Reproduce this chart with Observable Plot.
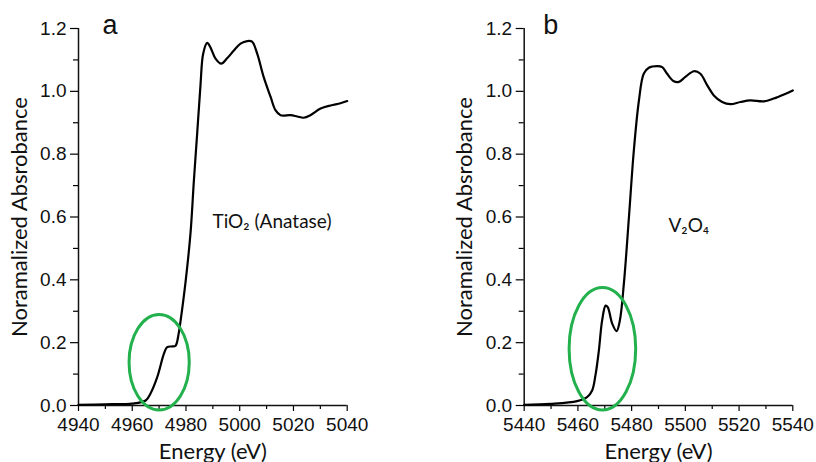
<!DOCTYPE html>
<html>
<head>
<meta charset="utf-8">
<script src="https://cdn.jsdelivr.net/npm/d3@7"></script>
<script src="https://cdn.jsdelivr.net/npm/@observablehq/plot@0.6"></script>
<style>
  html, body { margin: 0; padding: 0; background: #fff; }
  #wrap { position: relative; width: 816px; height: 462px; overflow: hidden; }
  #wrap > div, #wrap > svg { position: absolute; top: 0; }
</style>
</head>
<body>
<div id="wrap"></div>
<script>
// ---- Panel a : TiO2 (Anatase), Ti K-edge ----
const energyA = [4940, 4950, 4960, 4965, 4966.8, 4969.3, 4971.8, 4973, 4974.9, 4976.1, 4977.3, 4978, 4979.8, 4981.7, 4982.9, 4984.2, 4985.4, 4986.4, 4987.9, 4989.1, 4991, 4993.1, 4995.3, 4997.8, 5000.3, 5002.8, 5004.6, 5006.5, 5008.9, 5011.5, 5013.3, 5015.2, 5018.9, 5021.4, 5023.8, 5026.3, 5030.1, 5033.8, 5037.5, 5040];
const absA    = [0.002, 0.004, 0.006, 0.016, 0.038, 0.09, 0.165, 0.186, 0.188, 0.19, 0.23, 0.27, 0.39, 0.55, 0.71, 0.87, 1.02, 1.12, 1.154, 1.14, 1.104, 1.088, 1.105, 1.13, 1.152, 1.16, 1.158, 1.12, 1.046, 0.982, 0.94, 0.924, 0.924, 0.92, 0.916, 0.924, 0.945, 0.955, 0.962, 0.969];

// ---- Panel b : V2O4, V K-edge ----
const energyB = [5440, 5449.8, 5459.7, 5463.4, 5465.3, 5466.6, 5467.8, 5469, 5470.3, 5471.1, 5472.8, 5474.4, 5475.6, 5477.1, 5479, 5480.8, 5482.7, 5484.5, 5486.4, 5489.5, 5491.4, 5493.2, 5495.7, 5497.6, 5500, 5503.2, 5505.6, 5508.1, 5510.6, 5513.7, 5516.8, 5520.5, 5524.2, 5529.2, 5532.9, 5536.7, 5540];
const absB    = [0.002, 0.005, 0.014, 0.027, 0.048, 0.10, 0.175, 0.27, 0.318, 0.313, 0.26, 0.237, 0.27, 0.387, 0.6, 0.81, 0.97, 1.056, 1.075, 1.08, 1.077, 1.056, 1.032, 1.03, 1.046, 1.064, 1.056, 1.02, 0.987, 0.966, 0.959, 0.966, 0.971, 0.968, 0.977, 0.99, 1.003];

// ---- ticks / labels ----
const xTicksA = [4940, 4960, 4980, 5000, 5020, 5040];
const xMinorA = [4950, 4970, 4990, 5010, 5030];
const xTicksB = [5440, 5460, 5480, 5500, 5520, 5540];
const xMinorB = [5450, 5470, 5490, 5510, 5530];
const yTicks  = [0, 0.2, 0.4, 0.6, 0.8, 1.0, 1.2];
const yMinor  = [0.1, 0.3, 0.5, 0.7, 0.9, 1.1];
const panelLetters = ["a", "b"];
const sampleNames  = ["TiO\u2082 (Anatase)", "V\u2082O\u2084"];
const sampleNamePos = [[4989.9, 0.583], [5493.7, 0.573]];
const xLabel = "Energy (eV)";
const yLabel = "Noramalized Absrobance";
// pre-edge highlight ellipses: centre (eV, abs) and radii (eV, abs)
const ellipseA = [4970.2, 0.136, 11.2, 0.152];
const ellipseB = [5469.3, 0.179, 12.4, 0.195];

const labelFont = "Lato, 'Open Sans', sans-serif";
const tickFont = "'Liberation Sans', Arial, sans-serif";

function ellipseMark([cx, cy, rx, ry]) {
  return (index, scales) => {
    const el = document.createElementNS("http://www.w3.org/2000/svg", "ellipse");
    const X = scales.x, Y = scales.y;
    el.setAttribute("cx", X(cx));
    el.setAttribute("cy", Y(cy));
    el.setAttribute("rx", Math.abs(X(cx + rx) - X(cx)));
    el.setAttribute("ry", Math.abs(Y(cy + ry) - Y(cy)));
    el.setAttribute("fill", "none");
    el.setAttribute("stroke", "#22b14c");
    el.setAttribute("stroke-width", 3);
    return el;
  };
}

function panel({energy, abs, xTicks, xMinor, letter, name, namePos, ellipse, width, marginLeft, marginRight, letterDx}) {
  const data = energy.map((e, i) => ({e, a: abs[i]}));
  const xDomain = [xTicks[0], xTicks[xTicks.length - 1]];
  return Plot.plot({
    width, height: 462,
    marginLeft, marginRight, marginTop: 28, marginBottom: 57,
    style: {fontFamily: tickFont, fontSize: "19px", background: "transparent", overflow: "visible"},
    x: {domain: xDomain},
    y: {domain: [0, 1.2]},
    marks: [
      Plot.axisX({ticks: xMinor, tickSize: 4, text: null, label: null, strokeWidth: 1.2}),
      Plot.axisX({ticks: xTicks, tickSize: 6, tickPadding: 6, tickFormat: d3.format("d"), label: null, strokeWidth: 1.2, fill: "#111"}),
      Plot.axisY({ticks: yMinor, tickSize: 5, text: null, label: null, strokeWidth: 1.2}),
      Plot.axisY({ticks: yTicks, tickSize: 8, tickPadding: 4, tickFormat: d3.format(".1f"), label: null, strokeWidth: 1.2, fill: "#111"}),
      Plot.ruleX([xDomain[0]], {stroke: "#111", strokeWidth: 1.5}),
      Plot.ruleY([0], {stroke: "#111", strokeWidth: 1.5}),
      Plot.line(data, {x: "e", y: "a", stroke: "#000", strokeWidth: 2.2, curve: "catmull-rom"}),
      ellipseMark(ellipse),
      Plot.text([name], {x: namePos[0], y: namePos[1], textAnchor: "start", fontFamily: labelFont, fontSize: 19, fill: "#111"}),
      Plot.text([letter], {frameAnchor: "top-left", textAnchor: "start", lineAnchor: "bottom", dx: letterDx, dy: 5, fontFamily: tickFont, fontSize: 27, fill: "#111"}),
      Plot.text([yLabel], {frameAnchor: "left", textAnchor: "middle", rotate: -90, dx: -59, fontFamily: labelFont, fontSize: 22, fill: "#111"}),
      Plot.text([xLabel], {frameAnchor: "bottom", textAnchor: "middle", dy: 53, fontFamily: labelFont, fontSize: 22, fill: "#111"})
    ]
  });
}

const wrap = document.getElementById("wrap");
const pa = panel({energy: energyA, abs: absA, xTicks: xTicksA, xMinor: xMinorA, letter: panelLetters[0], name: sampleNames[0], namePos: sampleNamePos[0], ellipse: ellipseA, width: 408, marginLeft: 78, marginRight: 61.3, letterDx: 24});
const pb = panel({energy: energyB, abs: absB, xTicks: xTicksB, xMinor: xMinorB, letter: panelLetters[1], name: sampleNames[1], namePos: sampleNamePos[1], ellipse: ellipseB, width: 408, marginLeft: 115.7, marginRight: 23.7, letterDx: 19});
pa.style.left = "0px";
pb.style.left = "408px";
wrap.appendChild(pa);
wrap.appendChild(pb);
</script>
</body>
</html>
